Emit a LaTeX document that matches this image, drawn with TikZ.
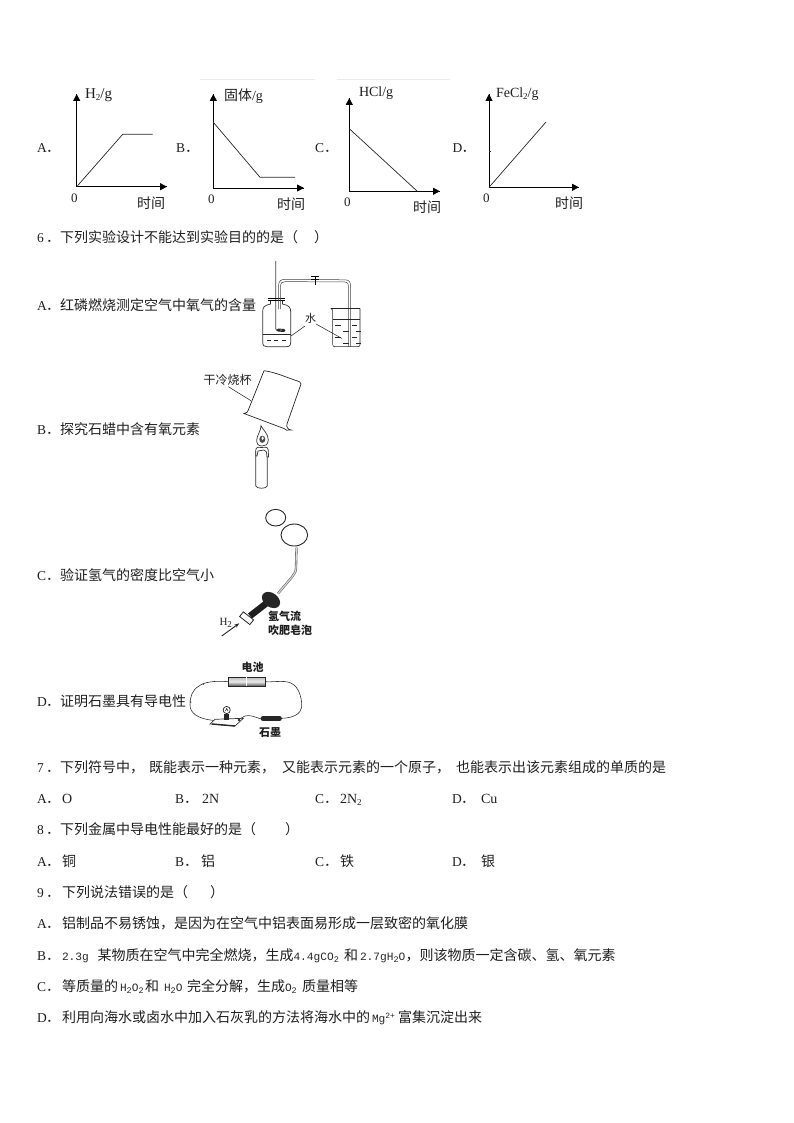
\documentclass[tikz,border=0pt]{standalone}
\usepackage{fontspec}
\usetikzlibrary{arrows.meta}
\setmainfont{Liberation Serif}
\newfontfamily\cjk{Noto Sans CJK SC}
\newfontfamily\lat{Liberation Mono}
\newcount\tn
\newcommand\fsz[1]{\fontsize{#1}{#1}\selectfont}
\newcommand\T[3]{\global\advance\tn by 1 \node[txt] (t\the\tn) at (#1,#2) {#3};}
\newcommand\TS[4]{\global\advance\tn by 1 \node[txt,font=\cjk\fsz{#1}] (t\the\tn) at (#2,#3) {#4};}
\newcommand\TB[4]{\global\advance\tn by 1 \node[txt,font=\cjk\bfseries\fsz{#1}] (t\the\tn) at (#2,#3) {#4};}
\newcommand\M[3]{\global\advance\tn by 1 \node[latn] (t\the\tn) at (#1,#2) {#3};}
\newcommand\R[4]{\global\advance\tn by 1 \node[txt,font=\rmfamily\fsz{#1}] (t\the\tn) at (#2,#3) {#4};}
\newcommand\Lb[3]{\global\advance\tn by 1 \node[txt,font=\rmfamily\fsz{13.5}] (t\the\tn) at (#1,#2) {#3};\global\advance\tn by 1 \node[txt] (t\the\tn) at (#1+9,#2) {．};}
\newcommand\sbs[1]{\raisebox{-2pt}{\fsz{9}#1}}
\newcommand\msb[1]{\raisebox{-2pt}{\fsz{8.5}#1}}
\newcommand\Axes[4]{\draw[axis] (#1,#3) -- (#1,#2) -- (#4,#2);
  \draw[axis,-{Triangle[length=7pt,width=7pt]}] (#1,#2) -- (#1,#3);
  \draw[axis,-{Triangle[length=7pt,width=7pt]}] (#1,#2) -- (#4,#2);}
\tikzset{
  txt/.style={anchor=base west,inner sep=0pt,outer sep=0pt,text=black!88,font=\cjk\fsz{14}},
  latn/.style={anchor=base west,inner sep=0pt,outer sep=0pt,text=black!85,font=\lat\fsz{11.2}},
  axis/.style={line width=0.9pt,black},
  curve/.style={line width=0.7pt,black!85},
  thin line/.style={line width=0.55pt,black!85},
  tube/.style={line width=0.5pt,black!75},
  faint/.style={line width=0.5pt,black!8}
}
\begin{document}
\begin{tikzpicture}[x=1pt,y=-1pt]
\useasboundingbox (0,0) rectangle (794,1123);
% faint scan edges
\draw[faint] (200,79) -- (315,79);
\draw[faint] (337,79) -- (450,79);
% ---------- graphs
\Lb{37}{153}{A}
\Axes{76.7}{186.7}{94}{167}
\draw[curve] (76.7,186.7) -- (122.7,134.3) -- (152.7,134.3);
\R{15}{85}{99}{H\sbs{2}/g}
\R{13}{71}{203}{0}
\T{137}{209}{时间}
\Lb{176}{153}{B}
\Axes{213.3}{188}{94}{304}
\draw[curve] (213.3,122.3) -- (260,177.3) -- (295,177.3);
\T{224}{101}{固体}\R{14}{252}{101}{/g}
\R{13}{208}{204}{0}
\T{277}{210}{时间}
\Lb{315}{153}{C}
\Axes{349.3}{191.3}{98}{440}
\draw[curve] (349.3,128.7) -- (417.3,191.3);
\R{14}{359}{97}{HCl/g}
\R{13}{344}{207}{0}
\T{413}{213}{时间}
\Lb{452.5}{153}{D}
\Axes{489}{187.3}{94}{579}
\draw[curve] (489,187.3) -- (546,122);
\draw[thin line] (489,151.7) -- (490.5,151.7);
\R{14}{496}{98}{FeCl\sbs{2}/g}
\R{13}{483}{203}{0}
\T{555}{209}{时间}
% ---------- question 6
\Lb{37}{242}{6}\T{60}{242}{下列实验设计不能达到实验目的的是}\T{284}{242}{（}\T{314}{242}{）}
\Lb{37}{310}{A}\T{60}{310}{红磷燃烧测定空气中氧气的含量}
\Lb{37}{434}{B}\T{60}{434}{探究石蜡中含有氧元素}
\Lb{37}{580}{C}\T{60}{580}{验证氢气的密度比空气小}
\Lb{37}{706}{D}\T{60}{706}{证明石墨具有导电性}
% ---------- apparatus A
\draw[line width=0.8pt,black!75] (275.7,261) -- (275.7,328) .. controls (275.7,331) and (278,331) .. (281,330);
\draw[line width=3pt,black!85,line cap=round] (278,330) -- (284,330.5);
\fill[white] (281,330) circle (0.7pt);
\draw[line width=1.1pt,black] (267.5,298.7) -- (285,298.7);
\draw[line width=1.1pt,black] (267.5,300.9) -- (285,300.9);
\draw[line width=0.7pt,black!80] (270.5,301) -- (270.5,304) .. controls (264,305.5) and (262.7,307) .. (262.7,312)
  -- (262.7,342) .. controls (262.7,345.5) and (264,346.7) .. (267,346.7) -- (286,346.7)
  .. controls (289.5,346.7) and (290.7,345.5) .. (290.7,342) -- (290.7,312)
  .. controls (290.7,307) and (289,305.5) .. (282.5,304) -- (282.5,301);
\draw[thin line] (262.7,334.3) -- (290.7,334.3);
\foreach \a/\b in {267/271,274/278,282/286}{\draw[thin line] (\a,340) -- (\b,340);}
\draw[tube] (278.5,309) -- (278.5,286) .. controls (278.5,281) and (281,279.3) .. (285,279.3) -- (345,279.8)
  .. controls (349,279.8) and (350.5,282) .. (350.5,286) -- (350.5,346.5);
\draw[tube] (280.5,309) -- (280.5,287) .. controls (280.5,283) and (282,281.6) .. (285,281.6) -- (345,282)
  .. controls (347,282) and (348.4,283) .. (348.4,287) -- (348.4,346.5);
\draw[line width=1pt,black] (311,276.5) -- (319,276.5);
\draw[line width=1pt,black] (311,279) -- (319,279);
\draw[line width=1pt,black] (315,276.5) -- (315,284.5);
\draw[thin line] (330.7,308.3) -- (332.7,310) -- (332.7,344.5) .. controls (332.7,346) and (333.5,346.7) .. (335,346.7)
  -- (358,346.7) .. controls (359.5,346.7) and (360,346) .. (360,344.5) -- (360,308.3);
\draw[thin line] (330.7,308.3) -- (360,308.3);
\draw[thin line] (332.7,319.3) -- (360,319.3);
\foreach \a/\b in {325/0,331/8,337/0,343/8}{\draw[thin line] (335+\b,\a) -- (341+\b,\a);\draw[thin line] (352+\b/2,\a) -- (357+\b/2,\a);}
\TS{11}{305}{322}{水}
\draw[thin line] (305,326) -- (291,336);
\draw[thin line] (316,324) -- (342,338.5);
% ---------- apparatus B
\TS{12}{203.5}{384}{干冷烧杯}
\draw[thin line] (228.3,386.7) -- (251,400.7);
\draw[line width=0.7pt,black!85] (264,370.7) .. controls (275,372) and (288,378) .. (296.7,380.7)
  .. controls (299,381.5) and (301,382) .. (301,384) -- (287,424) .. controls (286,427) and (288,429.5) .. (291,430)
  .. controls (288,431) and (285,430) .. (284,428.5) -- (244,413.5)
  .. controls (246.5,413) and (248,412) .. (248.3,410) -- (264,370.7);
\draw[line width=0.7pt,black!80] (255.7,451) -- (255.7,486) .. controls (257,489) and (266,489) .. (267.3,486) -- (267.3,451);
\draw[line width=0.7pt,black!80,fill=white] (255.7,451) .. controls (255.7,447) and (258,447) .. (261,447.5)
  .. controls (264,447) and (268,446.5) .. (268.3,450) -- (268.5,457) -- (267,457) -- (266.5,452) -- (264,450) -- (258,451) -- (257,456) -- (255.7,456) -- cycle;
\draw[line width=0.7pt,black!80] (261,425.7) .. controls (263,430) and (268.5,434) .. (268.3,440)
  .. controls (268,445) and (265,446) .. (262,446) .. controls (258.5,446) and (256.5,444) .. (256.7,440)
  .. controls (257,435) and (261,431) .. (261,425.7) -- cycle;
\fill[black!70] (262.3,439.3) ellipse (3pt and 3.6pt);
\fill[white] (262.6,438.2) ellipse (1.2pt and 1.8pt);
% ---------- apparatus C
\draw[line width=0.9pt,black!85] (275.7,517.7) ellipse (10pt and 8.3pt);
\draw[line width=0.9pt,black!85] (294.3,535) ellipse (13.3pt and 11pt);
\draw[line width=2.3pt,black!60] (296.5,547.7) -- (296,568) .. controls (296,572) and (294,574) .. (292,577) -- (278,593.5);
\draw[line width=1.1pt,white!85!black] (296.5,547.7) -- (296,568) .. controls (296,572) and (294,574) .. (292,577) -- (278,593.5);
\draw[line width=6.5pt,black!88] (268,602) -- (250,616);
\fill[black!85,rotate around={-35:(271,600)}] (271,600) ellipse (10pt and 7pt);
\draw[line width=0.8pt,black!85,fill=white,rotate around={-38:(247,618.5)}] (240,615.5) rectangle (253,621.5);
\draw[line width=0.9pt,black!85,-{Stealth[length=5pt,width=3.5pt]}] (221.7,636) -- (239.3,623.3);
\R{11}{219.5}{625}{H\sbs{2}}
\TB{11}{268}{620.5}{氢气流}
\TB{11}{268}{634.5}{吹肥皂泡}
% ---------- apparatus D
\TB{11}{241.5}{671.5}{电池}
\shade[top color=black!25,bottom color=black!65,middle color=black!8] (228.3,677.3) rectangle (265,686);
\draw[line width=0.6pt,black!85] (228.3,677.3) rectangle (265,686);
\draw[line width=0.7pt,white] (246,677.3) -- (246,686);
\draw[thin line] (228.3,681.7) .. controls (215,680.5) and (204,682) .. (199,686)
  .. controls (192,690) and (190,697) .. (190,705) .. controls (190,712) and (196,719) .. (215,720.5);
\draw[thin line] (265,681.7) .. controls (275,682.5) and (287,679) .. (294,685)
  .. controls (300,690) and (302,700) .. (301.7,707) .. controls (301,714) and (293,718) .. (281.7,718.3);
\draw[thin line] (261,719) .. controls (255,717) and (250,714.5) .. (245,716) .. controls (242,717) and (240,719) .. (238.3,720);
\draw[line width=4.8pt,black!85,line cap=round] (263,718.3) -- (279.5,718.3);
\TB{11}{259}{736}{石墨}
\draw[line width=0.7pt,black!80,fill=white] (215,719.3) -- (243.3,718.3) -- (235,726) -- (210,724) -- cycle;
\draw[line width=1.4pt,black!85] (212,724) -- (235,726);
\fill[black!85] (224,714) rectangle (229,720);
\draw[line width=0.7pt,black!85,fill=white] (226.7,710) circle (3.6pt);
\draw[line width=0.6pt,black!85] (225.5,711) -- (226.7,708.5) -- (228,711);
\fill[black!85] (239,720) circle (1.3pt);
\fill[black!70] (203.3,684) circle (1pt);
\fill[black!70] (190.5,702) circle (1pt);
% ---------- question 7
\Lb{37}{772}{7}\T{60}{772}{下列符号中，}\T{149}{772}{既能表示一种元素，}\T{282}{772}{又能表示元素的一个原子，}\T{456}{772}{也能表示出该元素组成的单质的是}
\Lb{37}{803}{A}\R{14}{62}{803}{O}
\Lb{175}{803}{B}\R{14}{202}{803}{2N}
\Lb{315}{803}{C}\R{14}{340}{803}{2N\sbs{2}}
\Lb{452}{803}{D}\R{14}{481}{803}{Cu}
% ---------- question 8
\Lb{37}{834}{8}\T{60}{834}{下列金属中导电性能最好的是}\T{242}{834}{（}\T{285}{834}{）}
\Lb{37}{866}{A}\T{62}{866}{铜}
\Lb{175}{866}{B}\T{201}{866}{铝}
\Lb{315}{866}{C}\T{340}{866}{铁}
\Lb{452}{866}{D}\T{481}{866}{银}
% ---------- question 9
\Lb{37}{897}{9}\T{62}{897}{下列说法错误的是}\T{174}{897}{（}\T{210}{897}{）}
\Lb{37}{928}{A}\T{62}{928}{铝制品不易锈蚀，是因为在空气中铝表面易形成一层致密的氧化膜}
\Lb{37}{960}{B}\M{62}{960}{2.3g}\T{97.5}{960}{某物质在空气中完全燃烧，生成}\M{293.5}{960}{4.4gCO\msb{2}}\T{344}{960}{和}\M{360}{960}{2.7gH\msb{2}O}\T{405.5}{960}{，则该物质一定含碳、氢、氧元素}
\Lb{37}{991}{C}\T{62}{991}{等质量的}\M{120}{991}{H\msb{2}O\msb{2}}\T{145}{991}{和}\M{164}{991}{H\msb{2}O}\T{187}{991}{完全分解，生成}\M{285}{991}{O\msb{2}}\T{302}{991}{质量相等}
\Lb{37}{1022}{D}\T{62}{1022}{利用向海水或卤水中加入石灰乳的方法将海水中的}\M{372}{1022}{Mg\raisebox{4pt}{\fsz{8}2+}}\T{398}{1022}{富集沉淀出来}
\end{tikzpicture}
\end{document}
